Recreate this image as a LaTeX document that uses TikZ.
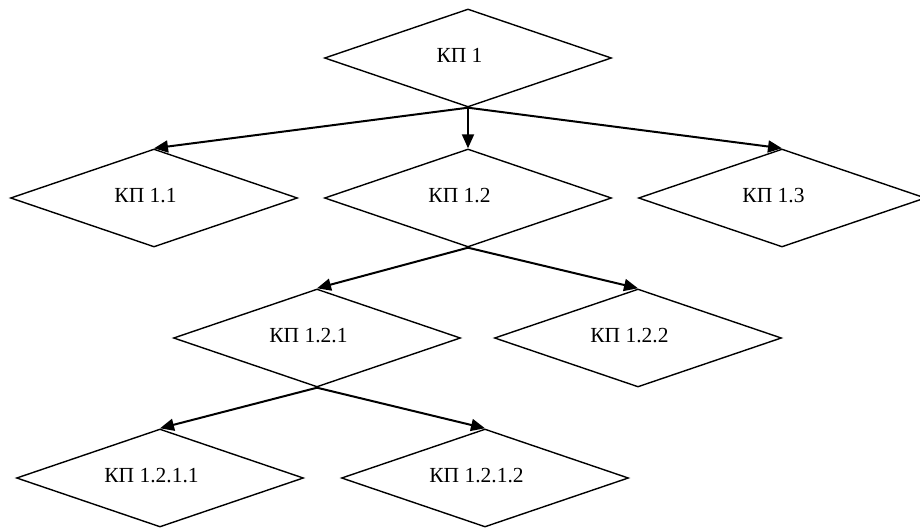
\documentclass[tikz,border=0pt]{standalone}
\usepackage{fontspec}
\setmainfont{Liberation Serif}
\usetikzlibrary{shapes.geometric,arrows.meta}
\tikzset{
  kp/.style={draw, diamond, aspect=2.9, inner sep=0pt, minimum width=287pt, minimum height=98pt,
    line width=1.4pt, text height=14pt, text depth=5pt,
    font=\fontsize{21.5}{23}\selectfont,
    execute at begin node={\hspace*{-17pt}}},
  arr/.style={line width=2pt, -{Triangle[length=14pt,width=12pt]}}
}
\begin{document}
\begin{tikzpicture}[x=1pt,y=-1pt]
\useasboundingbox (0,0) rectangle (920,529);
\node[kp] (k1) at (468,58) {КП 1};
\node[kp] (k11) at (154,198) {КП 1.1};
\node[kp] (k12) at (468,198) {КП 1.2};
\node[kp] (k13) at (782,198) {КП 1.3};
\node[kp] (k121) at (317,338) {КП 1.2.1};
\node[kp] (k122) at (638,338) {КП 1.2.2};
\node[kp] (k1211) at (160,478) {КП 1.2.1.1};
\node[kp] (k1212) at (485,478) {КП 1.2.1.2};
\draw[arr] (k1.south) -- (k11.north);
\draw[arr] (k1.south) -- (k12.north);
\draw[arr] (k1.south) -- (k13.north);
\draw[arr] (k12.south) -- (k121.north);
\draw[arr] (k12.south) -- (k122.north);
\draw[arr] (k121.south) -- (k1211.north);
\draw[arr] (k121.south) -- (k1212.north);
\end{tikzpicture}
\end{document}
